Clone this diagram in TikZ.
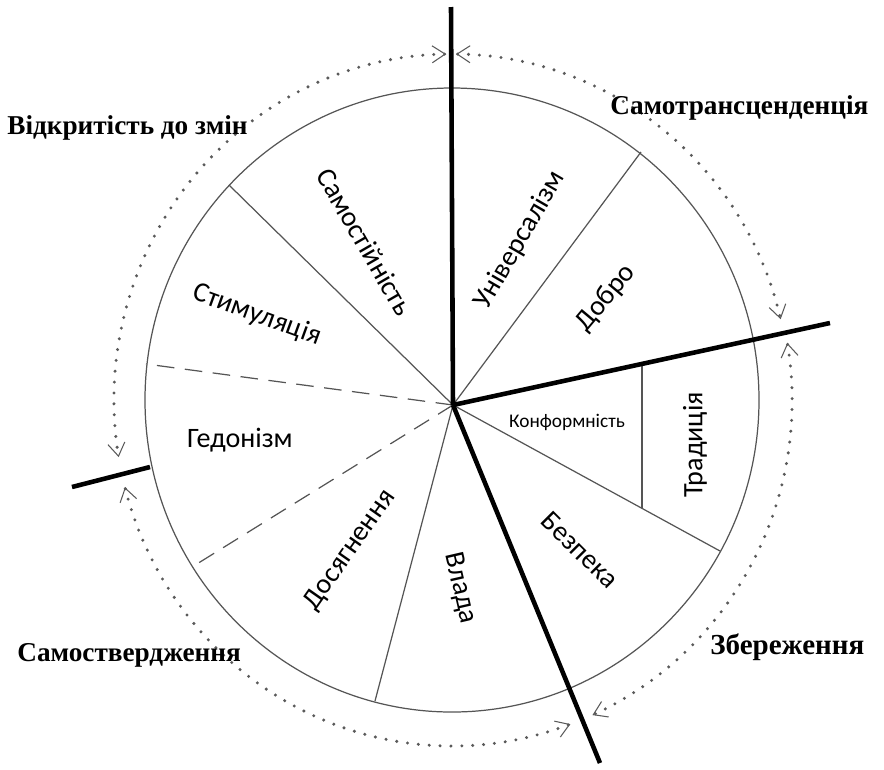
\documentclass[tikz,border=0pt]{standalone}
\usepackage{fontspec}
\setmainfont{Liberation Serif}
\newfontfamily\segfont{Carlito}
\usetikzlibrary{arrows.meta}
\definecolor{wheelgray}{RGB}{85,85,85}
\definecolor{dotgray}{RGB}{90,90,90}

\begin{document}
\begin{tikzpicture}[x=0.02cm, y=0.02cm,
    >={Straight Barb[length=2.6mm,width=3.4mm,line width=0.6pt]},
    rim/.style={draw=wheelgray, line width=0.7pt},
    spoke/.style={wheelgray, line width=0.7pt},
    split/.style={wheelgray, line width=0.7pt, dash pattern=on 10pt off 6pt},
    axis/.style={black, line width=2.6pt},
    ring/.style={dotgray, line width=1.9pt, line cap=round, dash pattern=on 0pt off 6.2pt, <->},
    value/.style={font=\segfont\fontsize{16}{16}\selectfont},
    group/.style={font=\bfseries\fontsize{15.5}{16}\selectfont, anchor=west, inner sep=0pt}]
    \useasboundingbox (-452,-369) rectangle (432,400);

    % Wheel
    \draw[rim] (0,0) ellipse [x radius=307, y radius=312];
    \coordinate (hub) at (1,-5);

    % Points on the rim
    \foreach \n/\x/\y in {rUni/189/248, rSelf/-223/215, rHed/-306/36, rAch/-260/-167,
                          rPow/-77/-301, rSec/268/-151}
        \coordinate (\n) at (\x,\y);

    % Thin borders
    \foreach \n in {rUni, rSelf, rPow, rSec}
        \draw[spoke] (hub) -- (\n);
    \foreach \n in {rHed, rAch}
        \draw[split] (hub) -- (\n);
    \coordinate (tTop) at (190,35);
    \coordinate (tBot) at (190,-108);
    \draw[spoke] (tTop) -- (tBot);

    % Thick axes
    \coordinate (aTop) at (-1,393);
    \coordinate (aRight) at (378,77);
    \coordinate (aDown) at (148,-363);
    \coordinate (aLeftIn) at (-302,-67);
    \coordinate (aLeftOut) at (-380,-87);
    \foreach \n in {aTop, aRight, aDown}
        \draw[axis] (hub) -- (\n);
    \draw[axis] (aLeftIn) -- (aLeftOut);

    % Dotted arcs
    \draw[ring] (91:338 and 346) arc[start angle=91, end angle=189.5, x radius=338, y radius=346];
    \draw[ring] (89.3:338 and 346) arc[start angle=89.3, end angle=13.5, x radius=338, y radius=346];
    \draw[ring] (9.5:340 and 346) arc[start angle=9.5, end angle=-65.6, x radius=340, y radius=346];
    \draw[ring] (194.6:338 and 346) arc[start angle=194.6, end angle=290.5, x radius=338, y radius=346];

    % Values
    \node[value, rotate=-60] (selfdir) at (-87,158) {Самостійність};
    \node[value, rotate=60] (univ) at (68,160) {Універсалізм};
    \node[value, rotate=50] (benev) at (154,102) {Добро};
    \node[value, rotate=-20] (stim) at (-195,85) {Стимуляція};
    \node[value] (hedon) at (-212,-40) {Гедонізм};
    \node[value, rotate=55] (achiev) at (-102,-150) {Досягнення};
    \node[value, rotate=-77] (power) at (8,-188) {Влада};
    \node[value, rotate=-45] (secur) at (128,-150) {Безпека};
    \node[value, rotate=90] (trad) at (243,-45) {Традиція};
    \node[font=\segfont\fontsize{11}{11}\selectfont] (conf) at (115,-22) {Конформність};

    % Groups
    \node[group] (gOpen) at (-445,272) {Відкритість до змін};
    \node[group] (gTrans) at (158,292) {Самотрансценденція};
    \node[group] (gEnh) at (-435,-255) {Самоствердження};
    \node[group, font=\bfseries\fontsize{16.5}{17}\selectfont] (gCons) at (258,-247) {Збереження};
\end{tikzpicture}
\end{document}
